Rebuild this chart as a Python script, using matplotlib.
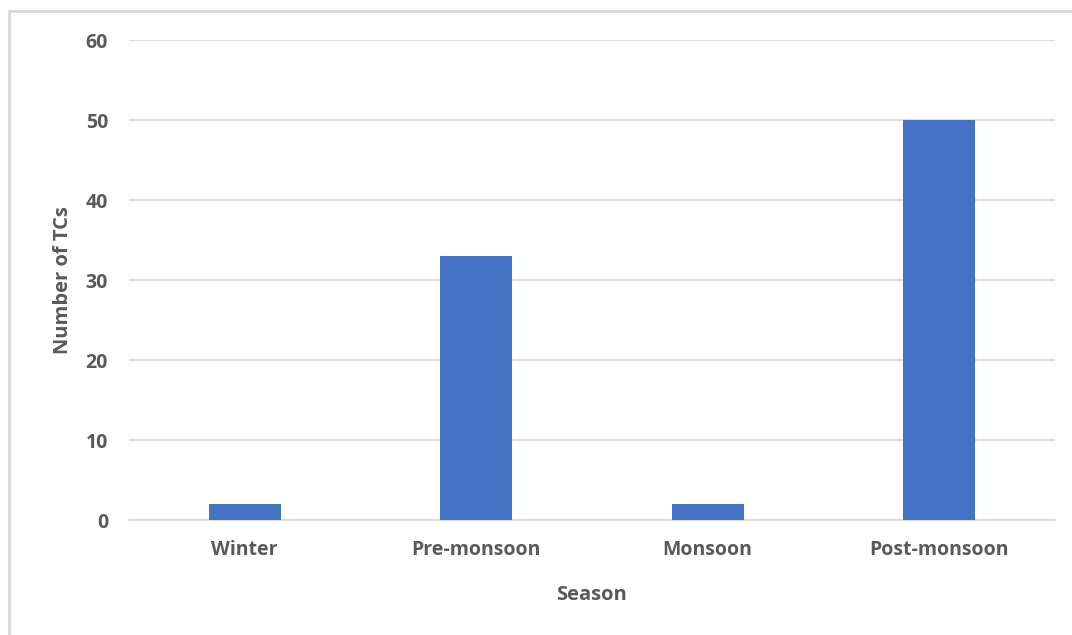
import matplotlib.pyplot as plt
from matplotlib.patches import Rectangle

seasons = ["Winter", "Pre-monsoon", "Monsoon", "Post-monsoon"]
tc_counts = [2, 33, 2, 50]

plt.rcParams["font.family"] = ["Open Sans", "DejaVu Sans"]
text_color = "#595959"

fig = plt.figure(figsize=(10.72, 6.35), dpi=100)
ax = fig.add_axes([0.1203, 0.181, 0.8637, 0.756])

x = range(len(seasons))
ax.bar(x, tc_counts, width=0.31, color="#4472C4", zorder=3)

ax.set_xlim(-0.5, len(seasons) - 0.5)
ax.set_ylim(0, 60)
ax.set_yticks(range(0, 61, 10))
ax.set_xticks(list(x))
ax.set_xticklabels(seasons)

ax.grid(axis="y", color="#D9D9D9", linewidth=1.3, zorder=0)
ax.grid(axis="x", visible=False)
for side in ["top", "right", "left"]:
    ax.spines[side].set_visible(False)
ax.spines["bottom"].set_color("#D9D9D9")
ax.spines["bottom"].set_linewidth(1.3)

ax.tick_params(axis="both", length=0, labelsize=14, labelcolor=text_color)
ax.tick_params(axis="y", pad=15)
ax.tick_params(axis="x", pad=14)
for lbl in ax.get_xticklabels() + ax.get_yticklabels():
    lbl.set_fontweight("bold")

ax.set_xlabel("Season", fontsize=14.5, color=text_color, fontweight="bold", labelpad=18)
ax.set_ylabel("Number of TCs", fontsize=14.5, color=text_color, fontweight="bold", labelpad=9)

# chart area outline
fig.patches.append(Rectangle((9 / 1072, -0.1), 1.2, 1 - 11 / 635 + 0.1,
                             transform=fig.transFigure, fill=False,
                             edgecolor="#D9D9D9", linewidth=2))

fig.savefig("out.png", dpi=100)
